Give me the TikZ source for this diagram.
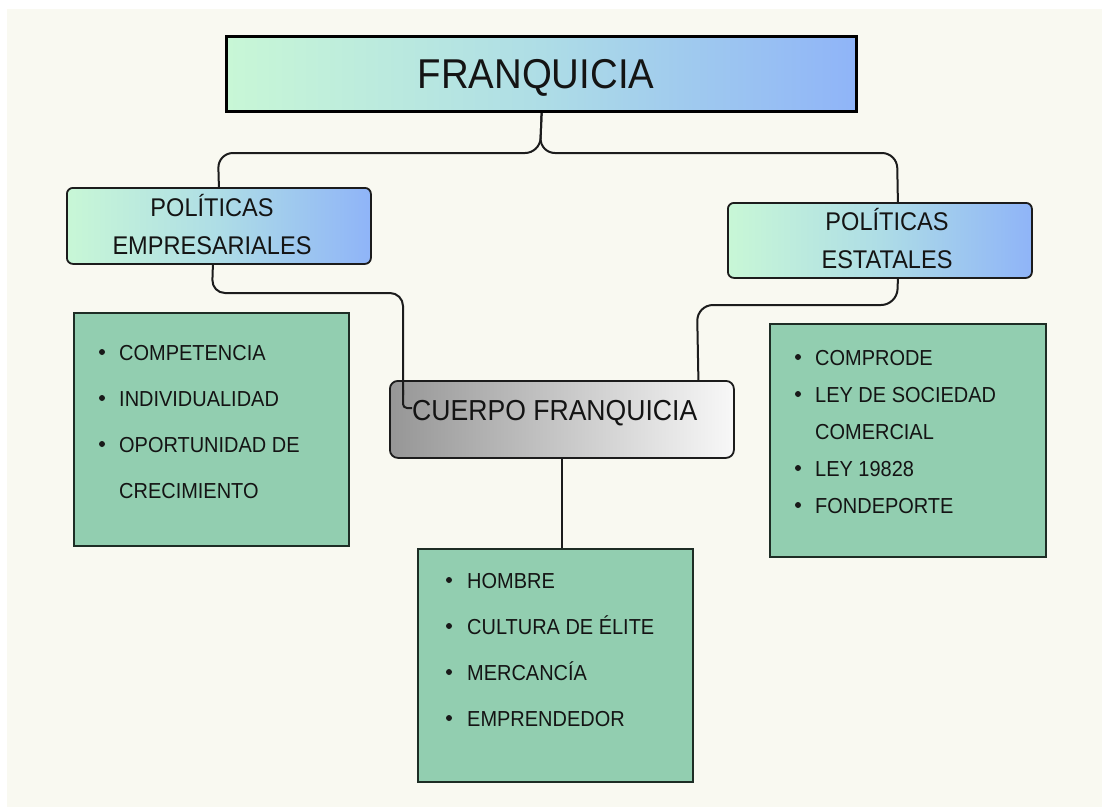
\documentclass[tikz,border=0pt]{standalone}
\usepackage{fontspec}
\setmainfont{Liberation Sans}[FakeStretch=0.92]
\usetikzlibrary{calc}
\definecolor{cream}{RGB}{249,249,241}
\definecolor{mint}{RGB}{200,247,214}
\definecolor{midc}{RGB}{174,221,230}
\definecolor{sky}{RGB}{143,180,248}
\definecolor{boxgreen}{RGB}{146,206,176}
\definecolor{edgec}{RGB}{28,28,28}
\definecolor{greenedge}{RGB}{30,45,37}
\definecolor{darkgray}{RGB}{150,150,150}
\definecolor{lightgray}{RGB}{248,248,248}
\begin{document}
\begin{tikzpicture}[x=1pt,y=-1pt,
  gradbox/.style={draw=edgec, line width=1.8pt, rounded corners=6pt, left color=mint, right color=sky, middle color=midc, inner sep=0pt, anchor=north west},
  topbox/.style={draw=black, line width=3.2pt, left color=mint, right color=sky, middle color=midc, inner sep=0pt, anchor=north west},
  graybox/.style={draw=edgec, line width=1.8pt, rounded corners=8pt, left color=darkgray, right color=lightgray, inner sep=0pt, anchor=north west},
  listbox/.style={draw=greenedge, line width=1.8pt, fill=boxgreen, inner sep=0pt, anchor=north west},
  conn/.style={draw=edgec, line width=2pt},
  item/.style={anchor=base west, font=\fontsize{21.7}{26}\selectfont, inner sep=0pt, text=black!92},
  headtxt/.style={anchor=base, font=\fontsize{25.6}{30}\selectfont, inner sep=0pt, text=black!92},
  dot/.style={circle, fill=black!90, minimum size=6pt, inner sep=0pt}
]
\useasboundingbox (0,0) rectangle (1102,807);
\fill[white] (0,0) rectangle (1102,807);
\fill[cream] (7,9) rectangle (1102,807);

% boxes
\node[topbox, minimum width=630pt, minimum height=75pt] (fr) at (225,35) {};
\node[gradbox, minimum width=304pt, minimum height=76pt] (pe) at (66,187) {};
\node[gradbox, minimum width=304pt, minimum height=75pt] (ps) at (727,202) {};
\node[graybox, minimum width=344pt, minimum height=77pt] (cu) at (389,380) {};
\node[listbox, minimum width=275pt, minimum height=233pt] (lb) at (73,312) {};
\node[listbox, minimum width=276pt, minimum height=233pt] (rb) at (769,323) {};
\node[listbox, minimum width=275pt, minimum height=233pt] (bb) at (417,548) {};

% connectors
\draw[conn, rounded corners=15pt] (fr.south) -- (540,153) -- (218,153) -- (pe.north);
\draw[conn, rounded corners=15pt] (fr.south) -- (540,153) -- (897,153) -- ($(ps.north)+(18,0)$);
\draw[conn, rounded corners=13pt] ($(pe.south)+(-6,0)$) -- (212,293) -- (403,293) -- (403,395);
\draw[conn, rounded corners=4pt] (403,390) -- (403,408) -- ($(cu.north west)+(23,28)$);
\draw[conn, rounded corners=16pt] ($(ps.south)+(18,0)$) -- (897,305) -- (697,305) -- ($(cu.north)+(136.5,0)$);
\draw[conn] (cu.south) -- (cu.south |- bb.north);

% heading texts
\node[anchor=base, font=\fontsize{41.7}{48}\selectfont, inner sep=0pt, text=black!92] (tfr) at (536,88) {FRANQUICIA};
\node[headtxt] (tpe1) at (212,216) {POLÍTICAS};
\node[headtxt] (tpe2) at (212,254) {EMPRESARIALES};
\node[headtxt] (tps1) at (887,230) {POLÍTICAS};
\node[headtxt] (tps2) at (887,268) {ESTATALES};
\node[anchor=base west, font=\fontsize{28.9}{34}\selectfont, inner sep=0pt, text=black!92] (tcu) at (412,420) {CUERPO FRANQUICIA};

% left list
\node[dot] (lb1) at (102,352) {};
\node[item] (lt1) at (119,360) {COMPETENCIA};
\node[dot] (lb2) at (102,398) {};
\node[item] (lt2) at (119,406) {INDIVIDUALIDAD};
\node[dot] (lb3) at (102,444) {};
\node[item] (lt3) at (119,452) {OPORTUNIDAD DE};
\node[item] (lt4) at (119,498) {CRECIMIENTO};

% right list
\node[dot] (rb1) at (798,357) {};
\node[item] (rt1) at (815,365) {COMPRODE};
\node[dot] (rb2) at (798,394) {};
\node[item] (rt2) at (815,402) {LEY DE SOCIEDAD};
\node[item] (rt3) at (815,439) {COMERCIAL};
\node[dot] (rb3) at (798,468) {};
\node[item] (rt4) at (815,476) {LEY 19828};
\node[dot] (rb4) at (798,505) {};
\node[item] (rt5) at (815,513) {FONDEPORTE};

% bottom list
\node[dot] (bb1) at (449,580) {};
\node[item] (bt1) at (467,588) {HOMBRE};
\node[dot] (bb2) at (449,626) {};
\node[item] (bt2) at (467,634) {CULTURA DE ÉLITE};
\node[dot] (bb3) at (449,672) {};
\node[item] (bt3) at (467,680) {MERCANCÍA};
\node[dot] (bb4) at (449,718) {};
\node[item] (bt4) at (467,726) {EMPRENDEDOR};
\end{tikzpicture}
\end{document}
